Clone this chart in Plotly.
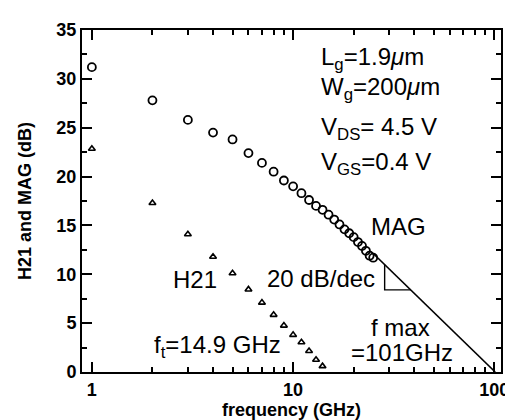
import math
import plotly.graph_objects as go

# ---- data ----
mag_freq = list(range(1, 26))  # GHz
mag_db = [31.2, 27.8, 25.8, 24.5, 23.8, 22.4, 21.4, 20.5, 19.6, 19.0,
          18.3, 17.6, 17.0, 16.6, 16.1, 15.6, 15.1, 14.6, 14.2, 13.8,
          13.3, 12.9, 12.4, 11.9, 11.7]

h21_freq = list(range(1, 15))  # GHz
h21_db = [22.85, 17.3, 14.1, 11.8, 10.1, 8.45, 7.1, 5.85, 4.75, 3.8,
          3.05, 2.15, 1.25, 0.6]

fmax_ghz = 101.0
slope_db_per_dec = 20.0
rolloff_start_ghz = 25.0
slope_corner_ghz = 28.5   # vertical leg of the slope triangle
slope_base_db = 8.4       # horizontal leg of the slope triangle

x_ticks = [1, 10, 100]
x_minor = [2, 3, 4, 5, 6, 7, 8, 9, 20, 30, 40, 50, 60, 70, 80, 90]
y_ticks = [0, 5, 10, 15, 20, 25, 30, 35]


def rolloff(f):
    return slope_db_per_dec * math.log10(fmax_ghz / f)


def rolloff_inv(db):
    return fmax_ghz / 10 ** (db / slope_db_per_dec)


line_f = [rolloff_start_ghz, fmax_ghz]
line_db = [rolloff(f) for f in line_f]

tri_f = [slope_corner_ghz, slope_corner_ghz, rolloff_inv(slope_base_db)]
tri_db = [rolloff(slope_corner_ghz), slope_base_db, slope_base_db]

fig = go.Figure()
fig.add_trace(go.Scatter(x=line_f, y=line_db, mode="lines",
                         line=dict(color="black", width=1.6), hoverinfo="skip"))
fig.add_trace(go.Scatter(x=tri_f, y=tri_db, mode="lines",
                         line=dict(color="black", width=1.4), hoverinfo="skip"))
fig.add_trace(go.Scatter(x=mag_freq, y=mag_db, mode="markers", name="MAG",
                         marker=dict(symbol="circle-open", size=8, color="black",
                                     line=dict(width=1.8, color="black"))))
fig.add_trace(go.Scatter(x=h21_freq, y=h21_db, mode="markers", name="H21",
                         marker=dict(symbol="triangle-up-open", size=6, color="black",
                                     line=dict(width=1.6, color="black"))))

tick_font = dict(family="Liberation Sans, Arial, sans-serif", size=18, color="black")
text_font = dict(family="Liberation Sans, Arial, sans-serif", size=24, color="black")

fig.update_layout(
    width=513, height=420,
    margin=dict(l=74, r=15.5, t=20, b=45),
    paper_bgcolor="white", plot_bgcolor="white",
    showlegend=False,
    xaxis=dict(
        type="log", range=[-0.049, 2.033],
        tickvals=x_ticks, ticktext=["<b>%d</b>" % v for v in x_ticks],
        ticks="inside", ticklen=10, tickwidth=2, tickcolor="black",
        minor=dict(tickvals=x_minor, ticks="inside", ticklen=5, tickwidth=1.5,
                   tickcolor="black", showgrid=False),
        showline=True, linewidth=2, linecolor="black", mirror="ticks",
        showgrid=False, zeroline=False, tickfont=tick_font,
        title=dict(text="<b>frequency (GHz)</b>", font=tick_font, standoff=4),
    ),
    yaxis=dict(
        range=[0, 35], tickvals=y_ticks, ticktext=["<b>%d</b>" % v for v in y_ticks],
        ticks="inside", ticklen=10, tickwidth=2, tickcolor="black",
        minor=dict(dtick=2.5, ticks="inside", ticklen=5, tickwidth=1.5,
                   tickcolor="black", showgrid=False),
        showline=True, linewidth=2, linecolor="black", mirror="ticks",
        showgrid=False, zeroline=False, tickfont=tick_font,
        title=dict(text="<b>H21 and MAG (dB)</b>", font=tick_font, standoff=20),
    ),
)

ann = [
    ("L<sub>g</sub>=1.9<i>μ</i>m", 0.566, 0.917, "left"),
    ("W<sub>g</sub>=200<i>μ</i>m", 0.566, 0.830, "left"),
    ("V<sub>DS</sub>= 4.5 V", 0.566, 0.711, "left"),
    ("V<sub>GS</sub>=0.4 V", 0.566, 0.610, "left"),
    ("MAG", 0.755, 0.424, "center"),
    ("H21", 0.27, 0.27, "center"),
    ("20 dB/dec", 0.703, 0.273, "right"),
    ("f max", 0.685, 0.13, "left"),
    ("=101GHz", 0.763, 0.056, "center"),
    ("f<sub>t</sub>=14.9 GHz", 0.166, 0.075, "left"),
]
for text, x, y, xa in ann:
    fig.add_annotation(text=text, x=x, y=y, xref="paper", yref="paper",
                       xanchor=xa, yanchor="middle", showarrow=False,
                       font=text_font)

fig.write_html("out.html")
